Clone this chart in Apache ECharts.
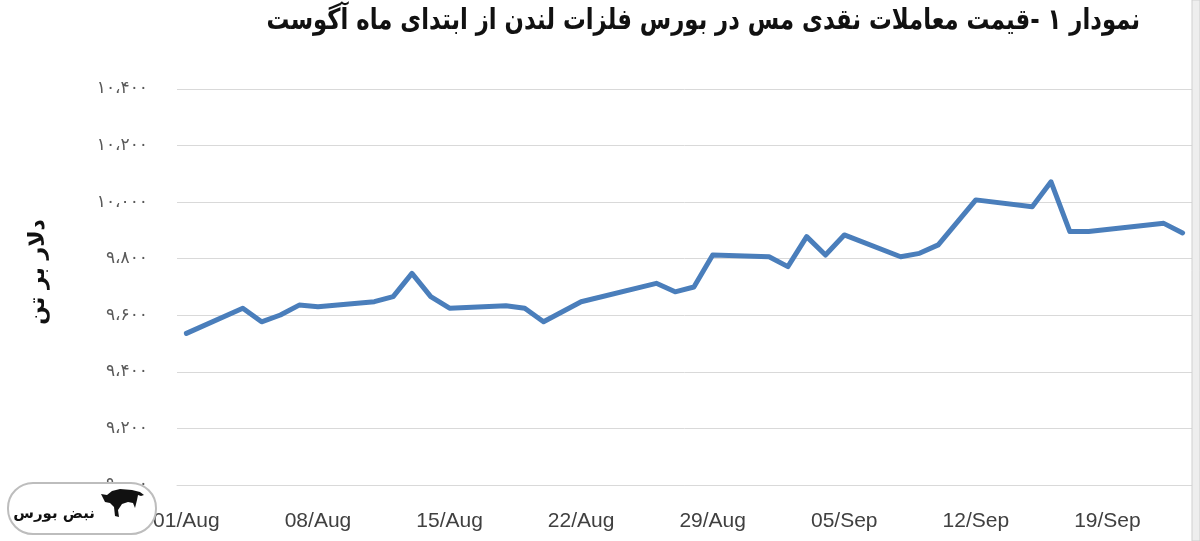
<!DOCTYPE html>
<html>
<head>
<meta charset="utf-8">
<script src="https://cdn.jsdelivr.net/npm/echarts@6/dist/echarts.min.js"></script>
<style>
html,body{margin:0;padding:0;background:#fff;}
#c{width:1200px;height:541px;}
</style>
</head>
<body>
<div id="c"></div>
<script>
// ---- data (LME cash copper, USD/t) ----
const startDate = '2025-08-01';
const endDate = '2025-09-23';
const tradeDates = ['2025-08-01','2025-08-04','2025-08-05','2025-08-06','2025-08-07','2025-08-08',
  '2025-08-11','2025-08-12','2025-08-13','2025-08-14','2025-08-15',
  '2025-08-18','2025-08-19','2025-08-20','2025-08-22',
  '2025-08-26','2025-08-27','2025-08-28','2025-08-29',
  '2025-09-01','2025-09-02','2025-09-03','2025-09-04','2025-09-05',
  '2025-09-08','2025-09-09','2025-09-10','2025-09-12',
  '2025-09-15','2025-09-16','2025-09-17','2025-09-18',
  '2025-09-22','2025-09-23'];
const prices = [9536,9625,9577,9601,9636,9630,
  9648,9666,9748,9666,9625,
  9634,9625,9577,9648,
  9713,9683,9700,9813,
  9807,9772,9878,9813,9884,
  9807,9819,9849,10008,
  9984,10072,9896,9896,
  9925,9891];
const yTicks = [9000, 9200, 9400, 9600, 9800, 10000, 10200, 10400];
const monthNames = ['Jan','Feb','Mar','Apr','May','Jun','Jul','Aug','Sep','Oct','Nov','Dec'];
const titleText = 'نمودار ۱ -قیمت معاملات نقدی مس در بورس فلزات لندن از ابتدای ماه آگوست';
const yName = 'دلار بر تن';
const logoText = 'نبض بورس';

// ---- build calendar categories ----
const categories = [];
const keys = [];
{
  let d = new Date(startDate + 'T00:00:00Z');
  const end = new Date(endDate + 'T00:00:00Z');
  while (d <= end) {
    const dd = String(d.getUTCDate()).padStart(2,'0');
    categories.push(dd + '/' + monthNames[d.getUTCMonth()]);
    keys.push(d.toISOString().slice(0,10));
    d = new Date(d.getTime() + 86400000);
  }
}
const priceMap = {};
tradeDates.forEach((k,i)=>{ priceMap[k] = prices[i]; });
const seriesData = keys.map(k => (k in priceMap) ? priceMap[k] : null);

const faDigits = '۰۱۲۳۴۵۶۷۸۹';
function toFa(v){
  const s = Math.round(v).toString().replace(/\B(?=(\d{3})+(?!\d))/g, '،');
  return s.replace(/\d/g, c => faDigits[+c]);
}

const chart = echarts.init(document.getElementById('c'), null, {renderer:'canvas'});
chart.setOption({
  backgroundColor: '#ffffff',
  animation: false,
  grid: {left: 177, right: 8, top: 89, bottom: 56, containLabel: false},
  xAxis: {
    type: 'category',
    data: categories,
    boundaryGap: true,
    axisLine: {show: true, lineStyle: {color: '#d9d9d9', width: 1}},
    axisTick: {show: false},
    axisLabel: {interval: 6, margin: 26, color: '#404040', fontSize: 21,
      fontFamily: 'Liberation Sans Narrow, Liberation Sans, sans-serif'},
    splitLine: {show: false}
  },
  yAxis: {
    type: 'value',
    min: yTicks[0], max: yTicks[yTicks.length-1], interval: 200,
    axisLine: {show: false},
    axisTick: {show: false},
    axisLabel: {margin: 29, color: '#595959', fontSize: 17, fontFamily: 'DejaVu Sans',
      formatter: v => toFa(v)},
    splitLine: {lineStyle: {color: '#d9d9d9', width: 1}}
  },
  series: [{
    type: 'line',
    data: seriesData,
    connectNulls: true,
    symbol: 'none',
    lineStyle: {color: '#4A7EBB', width: 5, cap: 'round', join: 'round'},
    z: 3
  }],
  graphic: [
    {type: 'text', x: 1140, y: 21, scaleX: 0.785, z: 10,
      style: {text: titleText, fontSize: 29, fontWeight: 'bold', fill: '#111',
        align: 'right', verticalAlign: 'middle', fontFamily: 'DejaVu Sans'}},
    {type: 'text', x: 38, y: 272, rotation: Math.PI / 2, z: 10,
      style: {text: yName, fontSize: 22, fontWeight: 'bold', fill: '#111',
        align: 'center', verticalAlign: 'middle', fontFamily: 'DejaVu Sans'}},
    {type: 'rect', shape: {x: 1192, y: 0, width: 8, height: 541},
      style: {fill: '#eeeeee', stroke: '#cfcfcf', lineWidth: 1}, z: 20},
    {type: 'rect', shape: {x: 8, y: 483, width: 148, height: 51, r: 25},
      style: {fill: '#ffffff', stroke: '#bdbdbd', lineWidth: 2}, z: 30},
    {type: 'polygon', z: 31,
      shape: {points: [[101,494],[107,495],[112,491],[120,489],[132,490],[140,492],[144,495],[141,496],[138,495],[137,500],[135,508],[133,503],[128,502],[122,504],[118,510],[119,517],[115,516],[114,507],[110,503],[105,502]]},
      style: {fill: '#111'}},
    {type: 'text', x: 95, y: 514, z: 32,
      style: {text: logoText, fontSize: 15, fontWeight: 'bold', fill: '#111',
        align: 'right', verticalAlign: 'middle', fontFamily: 'DejaVu Sans'}}
  ]
});
</script>
</body>
</html>
